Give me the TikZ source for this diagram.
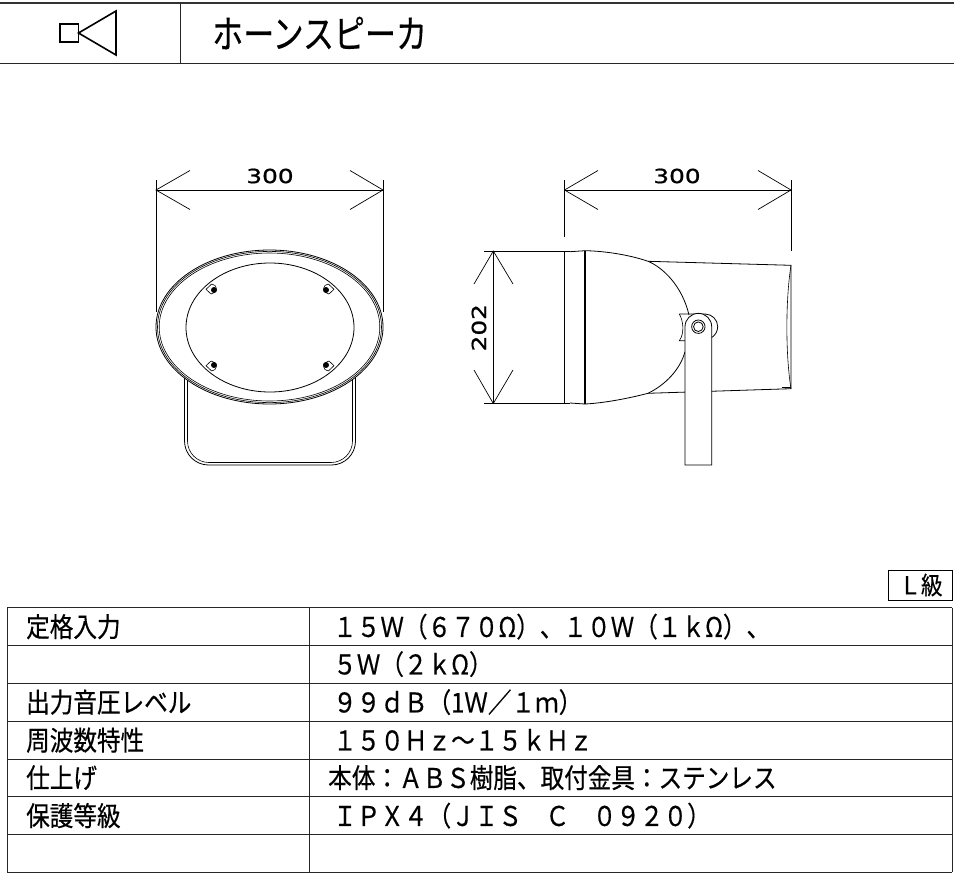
\documentclass[tikz,border=0pt]{standalone}
\usepackage{fontspec}
\usepackage{tikz}
\setmainfont{Noto Sans CJK JP}[RawFeature={embolden=0.5}]
\newfontfamily\dimfont{DejaVu Sans}[RawFeature={embolden=0.8}]
\tikzset{
    gridline/.style={line width=1pt,black!85},
    partline/.style={line width=0.8pt},
    thinline/.style={line width=0.6pt},
    dimline/.style={line width=0.7pt},
    dimtext/.style={font=\dimfont\fontsize{19.5}{20}\selectfont,inner sep=0pt,xscale=1.27},
    celltext/.style={anchor=west,inner sep=0pt,yscale=1.15,text height=20pt,text depth=3.6pt,font=\fontsize{23.6}{24}\selectfont},
}
\begin{document}
\begin{tikzpicture}[x=1pt,y=-1pt]
    \useasboundingbox (0,0) rectangle (954,876);
    \draw[line width=2pt,black!80] (0,2.5) -- (954,2.5);
    \draw[gridline] (0,63) -- (954,63);
    \draw[gridline] (180.5,3) -- (180.5,63);
    \draw[line width=1.6pt] (60,24) rectangle (78.5,42);
    \draw[line width=1.6pt] (78.5,33) -- (116,11) -- (116,55) -- cycle;
    \node[anchor=west,inner sep=0pt,yscale=1.25,font=\fontsize{31}{32}\selectfont] (title) at (212,33) {ホーンスピーカ};

    \draw[dimline] (156,180) -- (156,312);
    \draw[dimline] (383,180) -- (383,312);
    \draw[dimline] (156,190) -- (383,190);
    \draw[dimline] (190,170.5) -- (156,190) -- (190,209.5);
    \draw[dimline] (350,170.5) -- (383,190) -- (350,209.5);
    \node[dimtext] (frontwidth) at (270,176) {300};
    \draw[partline,fill=white,rounded corners=24pt] (184.5,377) -- (184.5,465) -- (355.5,465) -- (355.5,377);
    \draw[thinline,rounded corners=21.5pt] (187.5,377) -- (187.5,462.5) -- (352.5,462.5) -- (352.5,377);
    \draw[partline,fill=white] (269.5,327) ellipse [x radius=113.5,y radius=77];
    \draw[thinline] (269.5,327) ellipse [x radius=112,y radius=75.6];
    \draw[thinline] (269.5,327) ellipse [x radius=110.3,y radius=74];
    \draw[partline] (270,327.5) ellipse [x radius=84,y radius=64.5];
    \foreach \sx/\sy in {1/1,-1/1,1/-1,-1/-1} {
        \begin{scope}[shift={(270,327.5)},xscale=\sx,yscale=\sy]
            \fill (-56,-37.5) circle (3);
            \draw[thinline] (-58.3,-43.5) -- (-64,-38.2) -- (-59,-33.5);
            \draw[thinline] (-58.3,-43.5) .. controls (-53,-43) and (-51,-36) .. (-59,-33.5);
        \end{scope}
    }

    \draw[dimline] (564.5,180) -- (564.5,237);
    \draw[dimline] (791,180) -- (791,251);
    \draw[dimline] (564.5,190) -- (791,190);
    \draw[dimline] (598,170.5) -- (564.5,190) -- (598,209.5);
    \draw[dimline] (758,170.5) -- (791,190) -- (758,209.5);
    \node[dimtext] (sidewidth) at (677,176) {300};
    \draw[dimline] (484,251) -- (570,251);
    \draw[dimline] (484,403.5) -- (570,403.5);
    \draw[dimline] (493.3,251) -- (493.3,403.5);
    \draw[dimline] (474,284) -- (493.3,251) -- (513,284);
    \draw[dimline] (474,370) -- (493.3,403.5) -- (513,370);
    \node[rotate=90,dimtext] (sideheight) at (479,327.7) {202};

    \draw[partline] (648,261.3) -- (791,265.3) -- (791,388.7) -- (648,393.3);
    \draw[thinline] (791,265.3) .. controls (785.5,300) and (785.5,355) .. (791,388.7);
    \draw[thinline] (781.7,387.7) -- (791,387.7);
    \draw[partline,fill=white] (689,315) .. controls (682,285) and (662,267) .. (648,261.3) .. controls (630,255) and (605,251) .. (585,250.7) -- (585,404) .. controls (605,403) and (630,398) .. (648,393.3) .. controls (665,385) and (680,370) .. (685,351.7);
    \draw[partline] (570,251.7) -- (585,250.7);
    \draw[partline] (570,403) -- (585,404);
    \draw[partline] (564.5,251.7) -- (564.5,403);
    \draw[line width=1.5pt] (585,250.7) -- (585,404);
    \draw[thinline,fill=white] (679.3,314) .. controls (683,320) and (685,333) .. (679.3,340.7) -- (686,340.7);
    \draw[partline] (679.3,314) -- (705,314) arc [start angle=270,end angle=420,radius=12.7];
    \draw[partline,fill=white] (685,465) -- (685,326.7) arc [start angle=180,end angle=360,radius=13.35] -- (711.7,465) -- cycle;
    \draw[partline] (698.35,326.7) circle (6.7);
    \draw[partline] (698.35,326.7) circle (4.8);

    \draw[partline] (888.7,570) rectangle (952,600);
    \node[anchor=center,inner sep=0pt,yscale=1.15,font=\fontsize{21.5}{22}\selectfont] (grade) at (921,585) {Ｌ級};

    \foreach \rowy in {607.7,645.3,683.3,721,759,796.7,834.7,872.3} {
        \draw[gridline] (7,\rowy) -- (952,\rowy);
    }
    \draw[gridline] (7,607.7) -- (7,872.3);
    \draw[gridline] (309.3,607.7) -- (309.3,872.3);
    \draw[gridline] (952,607.7) -- (952,872.3);

    \node[celltext] (labelinput) at (26,627.5) {定格入力};
    \node[celltext] (labelspl) at (26,703) {出力音圧レベル};
    \node[celltext] (labelfreq) at (26,741) {周波数特性};
    \node[celltext] (labelfinish) at (26,778.5) {仕上げ};
    \node[celltext] (labelip) at (26,816.5) {保護等級};

    \node[celltext] (valinputa) at (333,627.5) {１５Ｗ（６７０Ω）、１０Ｗ（１ｋΩ）、};
    \node[celltext] (valinputb) at (333,665) {５Ｗ（２ｋΩ）};
    \node[celltext] (valspl) at (333,703) {９９ｄＢ（1Ｗ／１ｍ）};
    \node[celltext] (valfreq) at (333,741) {１５０Ｈｚ～１５ｋＨｚ};
    \node[celltext] (valfinish) at (328,778.5) {本体：ＡＢＳ樹脂、取付金具：ステンレス};
    \node[celltext] (valip) at (333,816.5) {ＩＰＸ４（ＪＩＳ　Ｃ　０９２０）};
\end{tikzpicture}
\end{document}
